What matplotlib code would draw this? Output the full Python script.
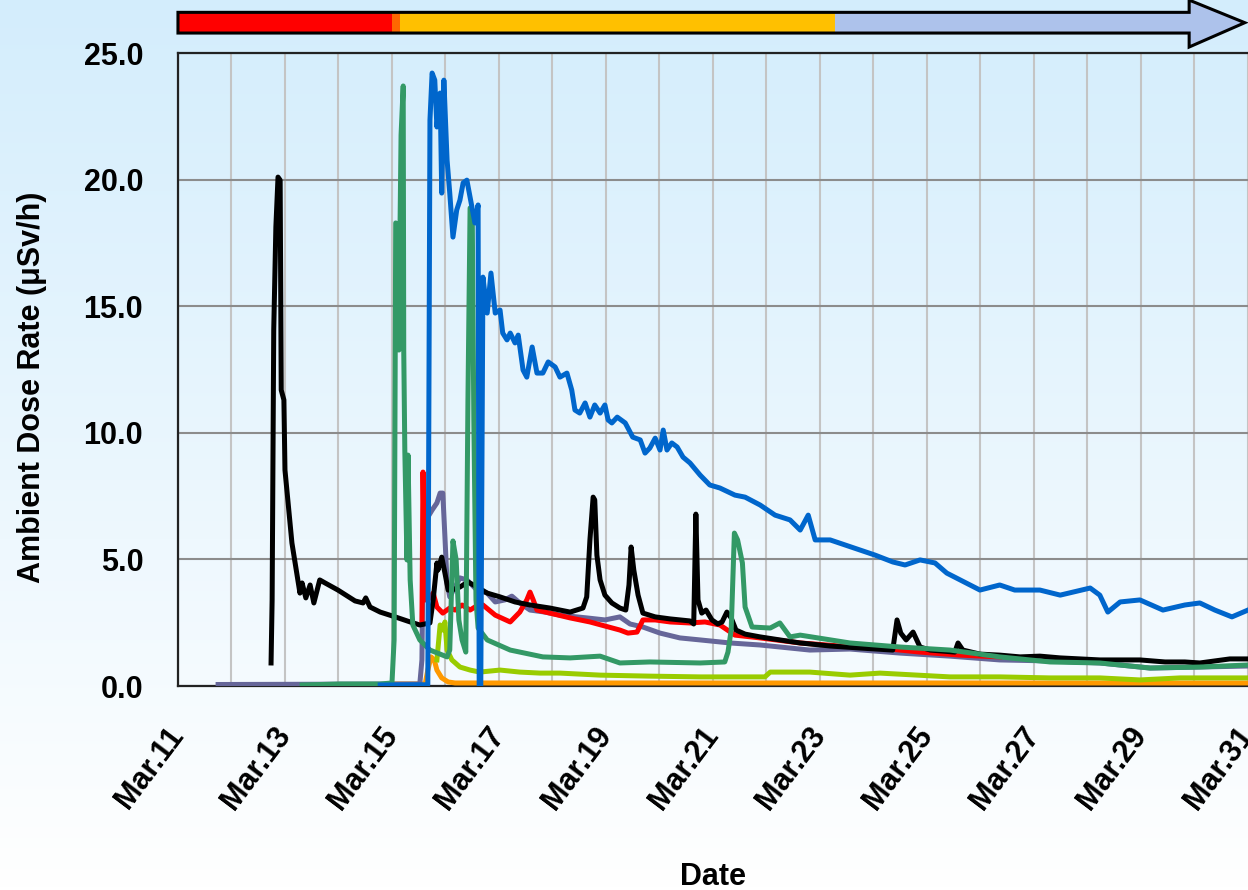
import numpy as np
import matplotlib
matplotlib.use("Agg")
import matplotlib.pyplot as plt
from matplotlib.patches import Polygon
from matplotlib.ticker import MultipleLocator, FixedLocator, FuncFormatter
import matplotlib.transforms as mtransforms

plt.rcParams['font.family'] = ['Liberation Sans', 'DejaVu Sans']
plt.rcParams['font.weight'] = 'bold'

# day of March (fractional) and dose rate in uSv/h for each monitoring series
blue_t = [14.78, 15.67, 15.71, 15.75, 15.80, 15.84, 15.90, 15.93, 15.97, 16.03, 16.08, 16.14,
          16.21, 16.27, 16.33, 16.40, 16.48, 16.55, 16.61, 16.63, 16.66, 16.70, 16.78, 16.85,
          16.93, 17.02, 17.07, 17.15, 17.21, 17.30, 17.36, 17.45, 17.52, 17.62, 17.71, 17.82,
          17.92, 18.05, 18.14, 18.27, 18.36, 18.42, 18.51, 18.61, 18.70, 18.79, 18.89, 18.98,
          19.04, 19.11, 19.21, 19.36, 19.50, 19.64, 19.73, 19.82, 19.92, 20.01, 20.07, 20.14,
          20.23, 20.33, 20.44, 20.57, 20.76, 20.94, 21.13, 21.41, 21.60, 21.88, 22.16, 22.44,
          22.63, 22.78, 22.91, 23.19, 23.47, 23.75, 24.03, 24.36, 24.59, 24.87, 25.15, 25.37,
          25.62, 25.99, 26.36, 26.64, 27.11, 27.49, 28.05, 28.23, 28.38, 28.61, 28.98, 29.41,
          29.82, 30.10, 30.38, 30.70, 31.00]
blue_v = [0.04, 0.05, 22.35, 24.21, 23.93, 22.08, 23.42, 19.47, 23.93, 20.77, 19.47, 17.73,
          18.80, 19.19, 19.87, 19.98, 19.08, 18.29, 19.00, 0.0, 0.0, 16.15, 14.73, 16.31,
          14.73, 14.85, 13.94, 13.67, 13.94, 13.55, 13.86, 12.48, 12.20, 13.39, 12.36, 12.36,
          12.80, 12.60, 12.20, 12.36, 11.69, 10.90, 10.78, 11.18, 10.62, 11.10, 10.78, 11.10,
          10.51, 10.39, 10.62, 10.39, 9.83, 9.72, 9.20, 9.40, 9.79, 9.32, 10.11, 9.32,
          9.60, 9.44, 9.04, 8.81, 8.33, 7.94, 7.82, 7.54, 7.46, 7.15, 6.75, 6.56,
          6.16, 6.75, 5.77, 5.77, 5.57, 5.37, 5.17, 4.90, 4.78, 4.98, 4.86, 4.46,
          4.19, 3.79, 3.99, 3.79, 3.79, 3.59, 3.87, 3.59, 2.92, 3.32, 3.40, 3.00,
          3.20, 3.28, 3.00, 2.73, 3.00]

black_t = [12.74, 12.76, 12.79, 12.83, 12.87, 12.91, 12.93, 12.98, 13.00, 13.13, 13.28, 13.32,
           13.39, 13.47, 13.54, 13.65, 13.75, 13.99, 14.31, 14.46, 14.51, 14.59, 14.78, 15.06,
           15.34, 15.52, 15.71, 15.77, 15.84, 15.86, 15.93, 15.99, 16.05, 16.12, 16.27, 16.42,
           16.59, 16.78, 17.02, 17.30, 17.58, 17.95, 18.33, 18.57, 18.64, 18.70, 18.76, 18.79,
           18.83, 18.89, 18.98, 19.11, 19.26, 19.37, 19.43, 19.47, 19.52, 19.60, 19.69, 19.92,
           20.20, 20.57, 20.64, 20.68, 20.72, 20.79, 20.87, 20.98, 21.09, 21.17, 21.26, 21.34,
           21.43, 21.60, 21.88, 22.25, 22.63, 23.19, 23.75, 24.36, 24.44, 24.51, 24.61, 24.74,
           24.87, 25.06, 25.52, 25.58, 25.67, 25.99, 26.36, 26.74, 27.11, 27.49, 28.23, 28.98,
           29.45, 29.82, 30.10, 30.66, 31.00]
black_v = [0.91, 3.40, 14.06, 18.13, 20.10, 19.98, 11.69, 11.30, 8.53, 5.65, 3.67, 4.07,
           3.48, 3.99, 3.28, 4.19, 4.07, 3.79, 3.36, 3.28, 3.48, 3.12, 2.92, 2.73,
           2.53, 2.41, 2.49, 3.40, 4.86, 4.58, 5.09, 4.46, 3.79, 3.79, 3.91, 4.11,
           3.91, 3.67, 3.52, 3.32, 3.20, 3.08, 2.92, 3.08, 3.52, 5.77, 7.46, 7.35,
           5.17, 4.19, 3.59, 3.28, 3.08, 3.00, 3.99, 5.49, 4.58, 3.59, 2.88, 2.73,
           2.65, 2.57, 2.45, 6.79, 3.40, 2.88, 3.00, 2.61, 2.45, 2.53, 2.92, 2.69,
           2.21, 2.05, 1.94, 1.82, 1.70, 1.58, 1.50, 1.42, 2.61, 2.09, 1.82, 2.13,
           1.54, 1.42, 1.34, 1.70, 1.42, 1.26, 1.22, 1.15, 1.18, 1.11, 1.03, 1.03,
           0.95, 0.95, 0.91, 1.07, 1.07]

red_t = [15.56, 15.58, 15.62, 15.67, 15.71, 15.77, 15.84, 15.95, 16.08, 16.18, 16.31, 16.46,
         16.61, 16.70, 16.93, 17.21, 17.39, 17.52, 17.58, 17.64, 17.71, 17.95, 18.33, 18.70,
         18.98, 19.26, 19.41, 19.58, 19.69, 19.92, 20.20, 20.57, 20.85, 21.13, 21.41, 21.88,
         22.63, 23.37, 24.12, 24.87, 25.62, 26.36]
red_v = [2.49, 8.45, 3.40, 3.40, 3.52, 3.67, 3.12, 2.88, 3.08, 3.00, 3.20, 3.00,
         3.20, 3.20, 2.80, 2.53, 2.92, 3.40, 3.71, 3.40, 3.00, 2.88, 2.69, 2.53,
         2.37, 2.21, 2.09, 2.13, 2.61, 2.61, 2.53, 2.49, 2.53, 2.41, 2.01, 1.90,
         1.70, 1.58, 1.50, 1.34, 1.22, 1.15]

purple_t = [11.75, 15.52, 15.56, 15.58, 15.67, 15.75, 15.84, 15.90, 15.95, 15.99, 16.03, 16.08,
            16.18, 16.27, 16.40, 16.59, 16.78, 16.93, 17.11, 17.24, 17.39, 17.58, 17.86, 18.14,
            18.64, 18.98, 19.26, 19.45, 19.69, 20.01, 20.38, 20.76, 21.32, 21.88, 22.44, 22.81,
            23.56, 24.50, 25.43, 26.36, 27.30, 28.23, 29.17, 30.10, 31.00]
purple_v = [0.06, 0.08, 1.03, 4.98, 6.67, 6.95, 7.23, 7.62, 7.62, 5.88, 4.07, 3.52,
            3.91, 4.27, 4.19, 3.79, 3.67, 3.32, 3.40, 3.55, 3.28, 3.00, 2.92, 2.80,
            2.69, 2.61, 2.73, 2.45, 2.33, 2.09, 1.90, 1.82, 1.70, 1.62, 1.50, 1.42,
            1.46, 1.30, 1.18, 1.03, 0.99, 0.91, 0.71, 0.75, 0.79]

green_t = [13.32, 14.03, 14.78, 15.00, 15.04, 15.07, 15.11, 15.13, 15.15, 15.17, 15.21, 15.22,
           15.24, 15.28, 15.30, 15.34, 15.39, 15.52, 15.71, 16.03, 16.08, 16.14, 16.20, 16.25,
           16.31, 16.38, 16.42, 16.46, 16.50, 16.53, 16.57, 16.61, 16.78, 17.21, 17.82, 18.33,
           18.89, 19.26, 19.82, 20.76, 21.22, 21.28, 21.34, 21.40, 21.46, 21.55, 21.60, 21.73,
           22.07, 22.25, 22.44, 22.63, 23.56, 24.50, 25.43, 26.36, 27.30, 28.23, 29.17, 30.10,
           31.00]
green_v = [0.04, 0.08, 0.08, 0.12, 1.82, 18.29, 18.21, 13.27, 18.01, 21.76, 23.70, 13.27,
           9.32, 4.98, 9.12, 4.19, 2.41, 1.82, 1.42, 1.15, 1.42, 5.73, 4.98, 2.61,
           1.82, 1.34, 11.30, 18.88, 18.72, 10.51, 3.40, 2.29, 1.82, 1.42, 1.15, 1.11,
           1.18, 0.91, 0.95, 0.91, 0.95, 1.34, 2.21, 6.04, 5.77, 4.86, 3.12, 2.33,
           2.29, 2.49, 1.94, 2.01, 1.70, 1.54, 1.42, 1.15, 0.95, 0.91, 0.71, 0.75,
           0.83]

lime_t = [15.84, 15.90, 15.95, 15.99, 16.03, 16.12, 16.27, 16.46, 16.64, 17.02, 17.39, 17.77,
          18.14, 18.89, 19.82, 20.76, 21.97, 22.07, 22.81, 23.56, 24.12, 25.43, 26.36, 27.30,
          28.23, 28.98, 29.73, 31.00]
lime_v = [1.03, 2.41, 2.21, 2.53, 1.42, 1.03, 0.75, 0.63, 0.55, 0.63, 0.55, 0.51,
          0.51, 0.43, 0.39, 0.36, 0.36, 0.55, 0.55, 0.43, 0.51, 0.36, 0.36, 0.32,
          0.32, 0.24, 0.32, 0.32]

orange_t = [14.96, 15.62, 15.67, 15.73, 15.79, 15.84, 15.93, 16.05, 16.18, 31.00]
orange_v = [0.08, 0.08, 0.63, 1.15, 1.03, 0.63, 0.32, 0.16, 0.12, 0.12]

# date labels every two days, grid every day
label_days = [11, 13, 15, 17, 19, 21, 23, 25, 27, 29, 31]

# phases shown in the bar above the plot (day of March)
phase_edges = [11.0, 15.0, 15.15, 23.28]
phase_colors = ['#FF0000', '#FF6600', '#FFC000']
arrow_color = '#ADC2EB'
arrow_head_start = 29.90
arrow_tip = 30.94

series = [
    (orange_t, orange_v, '#FF9900'),
    (lime_t, lime_v, '#99CC00'),
    (purple_t, purple_v, '#666699'),
    (red_t, red_v, '#FF0000'),
    (black_t, black_v, '#000000'),
    (green_t, green_v, '#339966'),
    (blue_t, blue_v, '#0066CC'),
]

fig = plt.figure(figsize=(12.48, 8.9), dpi=100)

# light blue to white background
bg = fig.add_axes([0, 0, 1, 1], zorder=-10)
grad = np.linspace(0, 1, 256).reshape(-1, 1)
top = np.array([0.83, 0.93, 0.99])
bottom = np.array([1.0, 1.0, 1.0])
img = top * (1 - grad[..., None]) + bottom * grad[..., None]
bg.imshow(img, aspect='auto', extent=[0, 1, 0, 1], origin='upper')
bg.axis('off')

ax = fig.add_axes([0.1426, 0.2292, 0.8574, 0.7112])
ax.set_facecolor('none')

for t, v, c in series:
    ax.plot(t, v, color=c, lw=3.6, solid_joinstyle='round', zorder=3)

ax.set_xlim(11, 31)
ax.set_ylim(0, 25)
ax.xaxis.set_major_locator(FixedLocator(label_days))
ax.xaxis.set_minor_locator(MultipleLocator(1))
ax.yaxis.set_major_locator(MultipleLocator(5))
ax.xaxis.set_major_formatter(FuncFormatter(lambda d, p: 'Mar.%d' % round(d)))
ax.yaxis.set_major_formatter(FuncFormatter(lambda v, p: '%.1f' % v))

ax.grid(axis='x', which='both', color='#C4C4C4', lw=1.5, zorder=0)
ax.grid(axis='y', which='major', color='#8C8C8C', lw=1.5, zorder=0)
ax.set_axisbelow(True)

ax.tick_params(axis='both', which='both', length=0)
ax.tick_params(axis='y', labelsize=22, pad=25)
ax.tick_params(axis='x', labelsize=22, pad=32)
for lab in ax.get_xticklabels():
    lab.set_rotation(53)
    lab.set_ha('right')
    lab.set_va('center')
    lab.set_rotation_mode('anchor')
    lab.set_fontweight('bold')
for lab in ax.get_yticklabels():
    lab.set_fontweight('bold')

for side in ['left', 'bottom', 'top']:
    ax.spines[side].set_color('#222222')
    ax.spines[side].set_linewidth(1.6)
ax.spines['right'].set_visible(False)

fig.text(0.0256, 0.565, 'Ambient Dose Rate (μSv/h)', rotation=90, ha='center', va='center',
         fontsize=22, fontweight='bold')
fig.text(0.571, 0.0146, 'Date', ha='center', va='center', fontsize=22, fontweight='bold')

# phase bar with arrow on top of the axes
trans = mtransforms.blended_transform_factory(ax.transData, ax.transAxes)
y0, y1 = 1.0316, 1.0643
h0, h1 = 1.0095, 1.0837
ym = (y0 + y1) / 2
for i, c in enumerate(phase_colors):
    x0 = phase_edges[i]
    x1 = phase_edges[i + 1]
    ax.add_patch(Polygon([(x0, y0), (x1, y0), (x1, y1), (x0, y1)], closed=True,
                         facecolor=c, edgecolor='none', transform=trans, clip_on=False))
arrow_pts = [(phase_edges[-1], y0), (arrow_head_start, y0), (arrow_head_start, h0),
             (arrow_tip, ym), (arrow_head_start, h1), (arrow_head_start, y1),
             (phase_edges[-1], y1)]
ax.add_patch(Polygon(arrow_pts, closed=True, facecolor=arrow_color, edgecolor='none',
                     transform=trans, clip_on=False))
outline = [(phase_edges[0], y0), (arrow_head_start, y0), (arrow_head_start, h0),
           (arrow_tip, ym), (arrow_head_start, h1), (arrow_head_start, y1),
           (phase_edges[0], y1)]
ax.add_patch(Polygon(outline, closed=True, facecolor='none', edgecolor='black', lw=2.2,
                     transform=trans, clip_on=False, joinstyle='miter'))

fig.savefig('out.png', dpi=100)
